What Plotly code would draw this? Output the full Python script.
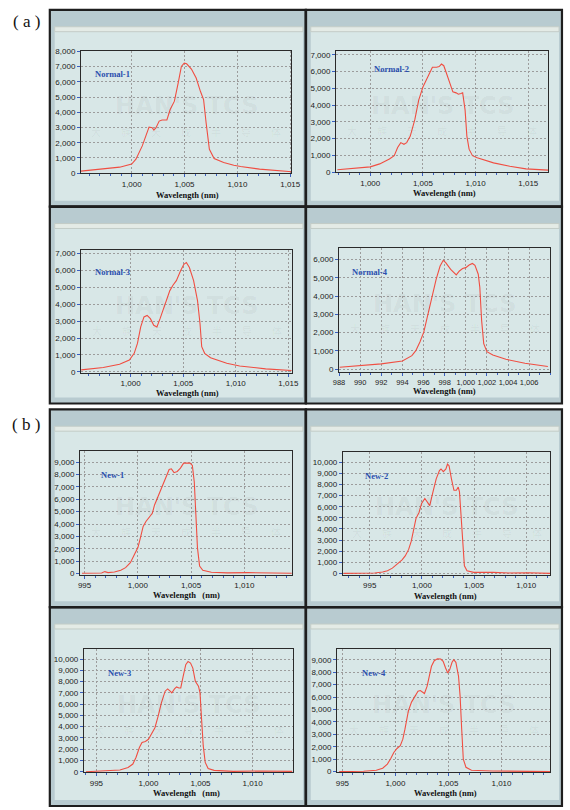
import plotly.graph_objects as go

# ---------------- data ----------------
a1_wl = [995.2, 997.3, 998.86, 1000.0, 1000.4, 1001.0, 1001.5, 1001.64, 1001.94, 1002.1, 1002.3, 1002.6, 1002.87,
         1003.33, 1003.64, 1004.04, 1004.4, 1004.7, 1004.97, 1005.2, 1005.65, 1006.1, 1006.5, 1006.8, 1007.04,
         1007.35, 1007.8, 1008.7, 1009.66, 1010.3, 1012.1, 1015.15]
a1_int = [130, 260, 390, 590, 915, 1790, 2880, 3030, 2985, 2830, 2985, 3420, 3490,
          3490, 4180, 4730, 5930, 7015, 7230, 7190, 6840, 6250, 5380, 4840, 3310,
          1570, 960, 700, 520, 435, 260, 90]

a2_wl = [996.88, 999.35, 1000.0, 1000.9, 1001.82, 1002.28, 1002.6, 1002.9, 1003.2, 1003.46, 1003.8, 1004.23,
         1004.6, 1005.0, 1005.37, 1005.68, 1005.9, 1006.3, 1006.54, 1006.76, 1006.98, 1007.2, 1007.53, 1007.84,
         1008.15, 1008.36, 1008.6, 1008.77, 1009.0, 1009.17, 1009.38, 1009.7, 1010.15, 1011.7, 1013.24, 1014.78,
         1016.88]
a2_int = [137, 274, 313, 490, 780, 980, 1470, 1760, 1660, 1760, 2150, 3130,
          4300, 5080, 5570, 5960, 6260, 6260, 6300, 6450, 6350, 5960, 5280, 4790,
          4730, 4650, 4690, 4730, 3715, 2150, 1370, 980, 860, 550, 350, 195,
          117]

a3_wl = [995.3, 997.4, 998.95, 999.88, 1000.34, 1000.65, 1000.96, 1001.27, 1001.57, 1001.88, 1002.2, 1002.5,
         1002.8, 1003.27, 1003.73, 1004.04, 1004.35, 1004.75, 1005.06, 1005.3, 1005.59, 1005.99, 1006.36, 1006.6,
         1006.76, 1007.04, 1007.6, 1009.14, 1010.37, 1012.84, 1015.3]
a3_int = [117, 254, 450, 700, 1095, 1680, 2660, 3250, 3340, 3150, 2760, 2660,
          3150, 4030, 4810, 5140, 5400, 5980, 6370, 6470, 6180, 5400, 4220, 2850,
          1490, 1095, 840, 510, 350, 176, 78]

a4_wl = [988.06, 990.0, 992.0, 994.0, 994.9, 995.27, 995.67, 996.03, 996.43, 996.83, 997.2, 997.57, 997.87,
         998.1, 998.57, 999.1, 999.4, 999.7, 1000.0, 1000.32, 1000.63, 1000.87, 1001.18, 1001.33, 1001.5,
         1001.7, 1002.0, 1002.56, 1003.8, 1005.6, 1007.77]
a4_int = [108, 180, 290, 450, 740, 1010, 1500, 2040, 3030, 4110, 4920, 5640, 5950,
          5820, 5460, 5150, 5370, 5500, 5550, 5690, 5780, 5680, 5190, 4470, 2670,
          1400, 955, 775, 540, 325, 145]

b1_wl = [994.76, 996.6, 996.9, 997.2, 997.8, 998.4, 998.85, 999.3, 999.76, 1000.0, 1000.2, 1000.5, 1000.76,
         1001.1, 1001.36, 1001.57, 1001.88, 1002.27, 1002.64, 1002.94, 1003.15, 1003.4, 1003.7, 1004.0, 1004.3,
         1004.6, 1004.9, 1005.12, 1005.3, 1005.45, 1005.6, 1005.8, 1006.1, 1006.9, 1008.4, 1010.36, 1014.45]
b1_int = [27, 50, 160, 80, 130, 270, 480, 880, 1680, 2080, 2740, 3810, 4210,
          4610, 4870, 5540, 6200, 7130, 7930, 8410, 8460, 8150, 8250, 8520, 8920,
          8950, 8920, 8730, 7400, 4740, 2080, 610, 270, 105, 55, 80, 27]

b2_wl = [992.5, 995.47, 996.24, 996.7, 997.17, 997.64, 998.1, 998.4, 998.73, 998.98, 999.2, 999.44, 999.72,
         999.97, 1000.28, 1000.53, 1000.75, 1001.06, 1001.37, 1001.68, 1001.83, 1002.05, 1002.3, 1002.45,
         1002.6, 1002.83, 1003.07, 1003.3, 1003.48, 1003.6, 1003.76, 1003.91, 1004.07, 1004.32, 1004.97,
         1006.8, 1008.35, 1010.2, 1012.3]
b2_int = [0, 30, 120, 240, 470, 830, 1210, 1570, 2160, 2900, 3930, 4970, 5470,
          6300, 6750, 6390, 6100, 7340, 8520, 9260, 9410, 9170, 9410, 9850,
          9700, 8520, 7490, 7490, 7780, 7340, 4970, 2310, 680, 240, 90,
          90, 30, 60, 0]

b3_wl = [994.0, 996.3, 997.26, 998.04, 998.5, 998.8, 999.13, 999.38, 999.7, 1000.0, 1000.31, 1000.62, 1000.93,
         1001.24, 1001.6, 1001.84, 1002.08, 1002.24, 1002.5, 1002.7, 1002.92, 1003.1, 1003.33, 1003.58, 1003.8,
         1004.04, 1004.26, 1004.5, 1004.8, 1004.95, 1005.1, 1005.26, 1005.45, 1005.73, 1006.3, 1008.15,
         1010.65, 1013.8]
b3_int = [0, 60, 150, 380, 680, 1260, 2150, 2590, 2680, 2880, 3470, 3910, 4940,
          6120, 7150, 7350, 7150, 7000, 7350, 7530, 7440, 7440, 8470, 9500, 9790,
          9650, 9200, 8030, 7590, 7000, 4650, 2290, 820, 290, 120, 30,
          60, 30]

b4_wl = [994.7, 997.0, 998.2, 998.8, 999.24, 999.54, 999.85, 1000.15, 1000.46, 1000.7, 1000.9, 1001.22, 1001.52,
         1001.83, 1002.13, 1002.35, 1002.6, 1002.74, 1002.99, 1003.2, 1003.4, 1003.66, 1003.96, 1004.27, 1004.5,
         1004.73, 1004.94, 1005.12, 1005.34, 1005.5, 1005.7, 1005.95, 1006.1, 1006.25, 1006.4, 1006.65, 1007.17,
         1009.15, 1012.2, 1014.6]
b4_int = [0, 27, 107, 270, 610, 1010, 1540, 1860, 2080, 2610, 3410, 4870, 5590,
          6070, 6470, 6520, 6340, 6280, 6870, 7670, 8470, 8920, 9080, 9050, 8870,
          8330, 7930, 8200, 8790, 9000, 8790, 7670, 6070, 3410, 1010, 350, 107,
          53, 53, 0]

names = ["Normal-1", "Normal-2", "Normal-3", "Normal-4", "New-1", "New-2", "New-3", "New-4"]
x_titles = ["Wavelength (nm)"] * 4 + ["Wavelength   (nm)", "Wavelength (nm)", "Wavelength   (nm)", "Wavelength (nm)"]
x_ticks_a = [1000, 1005, 1010, 1015]
x_ticks_a4 = [988, 990, 992, 994, 996, 998, 1000, 1002, 1004, 1006]
x_ticks_b = [995, 1000, 1005, 1010]
y_top_ticks = [8000, 7000, 7000, 6000, 9000, 10000, 10000, 9000]

series = [(a1_wl, a1_int), (a2_wl, a2_int), (a3_wl, a3_int), (a4_wl, a4_int),
          (b1_wl, b1_int), (b2_wl, b2_int), (b3_wl, b3_int), (b4_wl, b4_int)]
xtick_sets = [x_ticks_a, x_ticks_a, x_ticks_a, x_ticks_a4, x_ticks_b, x_ticks_b, x_ticks_b, x_ticks_b]

# ---------------- layout geometry (pixels) ----------------
W, H = 570, 810
def PX(x): return x / W
def PY(y): return 1 - y / H

rects = [(77, 293, 48, 171), (339, 557, 48, 170), (77, 294, 249, 373), (342, 559, 247, 372),
         (76, 294, 452, 577), (346, 559, 453, 577), (80, 295, 652, 777), (340, 559, 652, 777)]
xranges = [(995.2, 1015.1), (996.76, 1016.9), (995.28, 1015.37), (988.0, 1008.0),
           (994.57, 1014.5), (992.43, 1012.3), (993.8, 1013.9), (994.5, 1014.6)]
yranges = [(0, 8000), (0, 7200), (-60, 7200), (-146, 6610),
           (-80, 9900), (-110, 10940), (-60, 10920), (-60, 9880)]
label_pos = [(89, 71), (375.7, 66), (89, 271), (353, 271), (95.7, 476), (366.7, 477), (102.3, 677), (363.3, 677)]
title_pos = [(186.7, 192.8), (450, 191.5), (186, 393), (450, 391.5), (185, 597.3), (451.7, 598.2), (185, 797.6), (451.7, 797.6)]
cells = [(45, 308, 6, 205), (308, 571, 6, 205), (45, 308, 205, 404), (308, 571, 205, 404),
         (45, 308, 410, 610), (308, 571, 410, 610), (45, 308, 610, 811), (308, 571, 610, 811)]

RED = "rgb(240,78,66)"
BLUE_TXT = "#2a4fae"
TICKBLUE = "#3a5fc0"
GRID = "#9c9c9c"

fig = go.Figure()
layout = dict(width=W, height=H, margin=dict(l=0, r=0, t=0, b=0),
              paper_bgcolor="white", plot_bgcolor="white", showlegend=False)
shapes = []
annotations = []

for (cx0, cx1, cy0, cy1) in cells:
    shapes.append(dict(type="rect", xref="paper", yref="paper", layer="below",
                       x0=PX(cx0), x1=PX(cx1), y0=PY(cy1), y1=PY(cy0),
                       fillcolor="#b8cbd0", line=dict(color="#1e1e1e", width=2.2)))
    shapes.append(dict(type="rect", xref="paper", yref="paper", layer="below",
                       x0=PX(cx0 + 5), x1=PX(cx1 - 3), y0=PY(cy1 - 6), y1=PY(cy0 + 17),
                       fillcolor="#d8e7e7", line=dict(width=0)))
    shapes.append(dict(type="rect", xref="paper", yref="paper", layer="below",
                       x0=PX(cx0 + 5), x1=PX(cx1 - 3), y0=PY(cy0 + 22), y1=PY(cy0 + 17),
                       fillcolor="#e4ebe6", line=dict(color="#c3ccc7", width=1)))

for i in range(8):
    ax = "" if i == 0 else str(i + 1)
    x0, x1, y0, y1 = rects[i]
    wl, inten = series[i]
    fig.add_trace(go.Scatter(x=wl, y=inten, mode="lines", line=dict(color=RED, width=1.1),
                             xaxis="x" + ax, yaxis="y" + ax, hoverinfo="skip"))
    xt = xtick_sets[i]
    yt = list(range(0, y_top_ticks[i] + 1, 1000))
    fsz = 7.5 if i == 3 else 8
    layout["xaxis" + ax] = dict(
        domain=[PX(x0), PX(x1)], anchor="y" + ax, range=list(xranges[i]),
        tickvals=xt, ticktext=[f"{v:,}" for v in xt], tickangle=0,
        ticks="outside", ticklen=3, tickcolor=TICKBLUE, tickwidth=1,
        minor=dict(dtick=1, ticks="outside", ticklen=2, tickcolor=TICKBLUE, showgrid=False),
        showgrid=True, gridcolor=GRID, griddash="2px,2px", gridwidth=1,
        showline=True, linecolor="#2a2a2a", linewidth=1, mirror=True,
        zeroline=False, tickfont=dict(family="Liberation Sans, Arial", size=fsz, color="#222"),
    )
    layout["yaxis" + ax] = dict(
        domain=[PY(y1), PY(y0)], anchor="x" + ax, range=list(yranges[i]),
        tickvals=yt, ticktext=[f"{v:,}" for v in yt],
        ticks="outside", ticklen=3, tickcolor=TICKBLUE, tickwidth=1,
        showgrid=True, gridcolor=GRID, griddash="2px,2px", gridwidth=1,
        showline=True, linecolor="#2a2a2a", linewidth=1, mirror=True,
        zeroline=False, tickfont=dict(family="Liberation Sans, Arial", size=8, color="#222"),
    )
    lx, ly = label_pos[i]
    annotations.append(dict(xref="paper", yref="paper", x=PX(lx), y=PY(ly), xanchor="left", yanchor="middle",
                            text=f"<b>{names[i]}</b>", showarrow=False,
                            font=dict(family="Liberation Serif, Times New Roman", size=8.5, color=BLUE_TXT)))
    tx, ty = title_pos[i]
    annotations.append(dict(xref="paper", yref="paper", x=PX(tx), y=PY(ty), xanchor="center", yanchor="middle",
                            text=f"<b>{x_titles[i].replace('  ', '&nbsp;&nbsp;')}</b>", showarrow=False,
                            font=dict(family="Liberation Serif, Times New Roman", size=8.5, color="#111")))
    # faint watermark
    mx = (x0 + x1) / 2
    my = (y0 + y1) / 2
    annotations.append(dict(xref="paper", yref="paper", x=PX(mx), y=PY(my - 6), xanchor="center", yanchor="middle",
                            text="<b>HAN'S TCS</b>", showarrow=False,
                            font=dict(family="DejaVu Sans", size=24, color="rgba(0,0,0,0.05)")))
    annotations.append(dict(xref="paper", yref="paper", x=PX(mx), y=PY(my + 19), xanchor="center", yanchor="middle",
                            text="大　　族　　天　　成　　半　　导　　体", showarrow=False,
                            font=dict(family="Noto Sans CJK SC", size=10, color="rgba(0,0,0,0.05)")))

for (yy0, yy1, ymid) in [(6, 404, 205), (410, 811, 610)]:
    shapes.append(dict(type="line", xref="paper", yref="paper", layer="below",
                       x0=PX(308), x1=PX(308), y0=PY(yy1), y1=PY(yy0), line=dict(color="#1e1e1e", width=2.5)))
    shapes.append(dict(type="line", xref="paper", yref="paper", layer="below",
                       x0=PX(45), x1=PX(571), y0=PY(ymid), y1=PY(ymid), line=dict(color="#1e1e1e", width=2.5)))

annotations.append(dict(xref="paper", yref="paper", x=PX(21), y=PY(18), xanchor="center", yanchor="middle",
                        text="( a )", showarrow=False,
                        font=dict(family="Liberation Serif, Times New Roman", size=17, color="#111")))
annotations.append(dict(xref="paper", yref="paper", x=PX(21), y=PY(425), xanchor="center", yanchor="middle",
                        text="( b )", showarrow=False,
                        font=dict(family="Liberation Serif, Times New Roman", size=17, color="#111")))

layout["shapes"] = shapes
layout["annotations"] = annotations
fig.update_layout(**layout)
fig.write_html("out.html")
